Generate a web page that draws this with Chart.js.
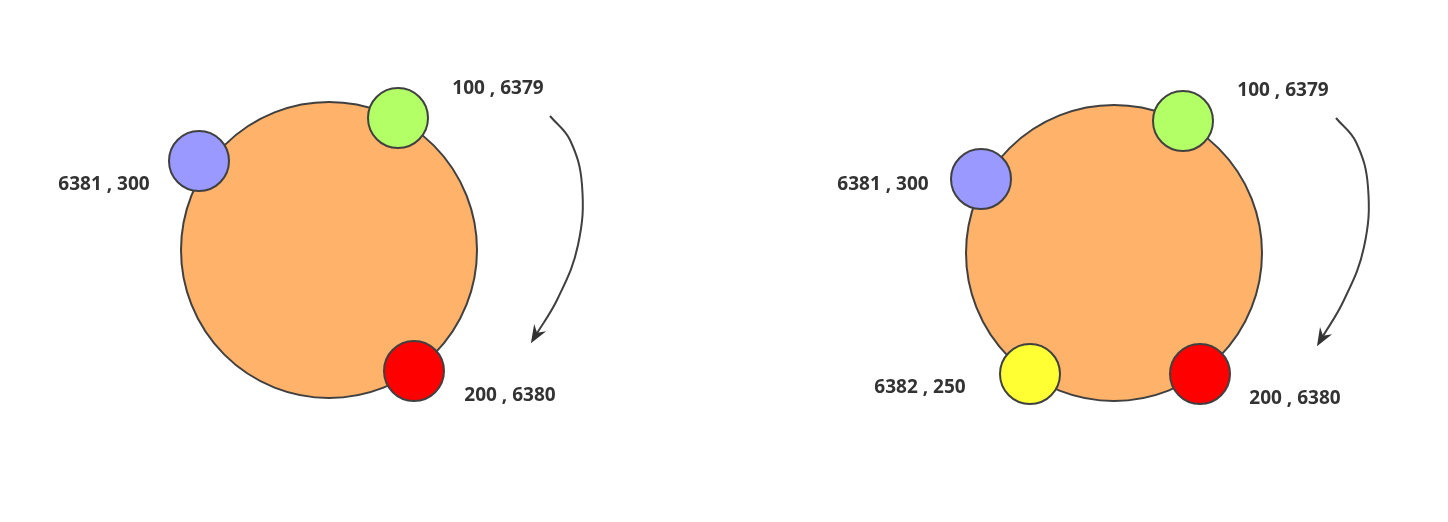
<!DOCTYPE html>
<html><head><meta charset="utf-8">
<script src="https://cdn.jsdelivr.net/npm/chart.js@4/dist/chart.umd.min.js"></script>
<style>html,body{margin:0;padding:0;background:#fff}#w{width:1448px;height:522px}</style>
</head><body><div id="w"><canvas id="c"></canvas></div>
<script>
// Ring (big circle) centers and radii
const ringX = [329, 1114];
const ringY = [250, 253];
const ringR = [148, 148];
// Nodes
const nodeLabels = ["6381 , 300","100 , 6379","200 , 6380","6381 , 300","100 , 6379","200 , 6380","6382 , 250"];
const nodeX = [199, 398, 414, 981, 1183, 1200, 1030];
const nodeY = [161, 118, 371, 179, 121, 374, 374];
const nodeColors = ["#9999ff","#b3ff66","#ff0000","#9999ff","#b3ff66","#ff0000","#ffff33"];
const labelX = [104, 498, 510, 883, 1283, 1295, 920];
const labelY = [185, 89, 396, 185, 91, 399, 388];
// Arrows (curve points)
const arrow1 = [{x:550,y:116},{x:570,y:140},{x:582,y:185},{x:578,y:245},{x:558,y:298},{x:534,y:338}];
const arrow2 = [{x:1336,y:118},{x:1356,y:142},{x:1368,y:187},{x:1364,y:247},{x:1344,y:300},{x:1320,y:341}];

const datasets = [
  {type:'bubble', order:3, clip:false, data: ringX.map((x,i)=>({x, y:ringY[i], r:ringR[i]})), backgroundColor:'#feb26a', borderColor:'#404040', borderWidth:2, hoverRadius:0},
  {type:'bubble', order:1, clip:false, data: nodeX.map((x,i)=>({x, y:nodeY[i], r:30})), backgroundColor:nodeColors, borderColor:'#404040', borderWidth:2, hoverRadius:0},
  {type:'line', order:2, clip:false, data: arrow1, borderColor:'#404040', borderWidth:2, tension:0.4, pointRadius:0, fill:false},
  {type:'line', order:2, clip:false, data: arrow2, borderColor:'#404040', borderWidth:2, tension:0.4, pointRadius:0, fill:false}
];
const deco = {
  id:'deco',
  afterDatasetsDraw(chart){
    const {ctx, scales:{x, y}} = chart;
    ctx.save();
    ctx.fillStyle = '#333';
    ctx.font = 'bold 19px "Open Sans", "DejaVu Sans", sans-serif';
    ctx.textAlign = 'center'; ctx.textBaseline = 'middle';
    nodeLabels.forEach((t,i)=>ctx.fillText(t, x.getPixelForValue(labelX[i]), y.getPixelForValue(labelY[i])));
    [arrow1, arrow2].forEach(a=>{
      const p = a[a.length-1], q = a[a.length-2];
      const tx = x.getPixelForValue(p.x), ty = y.getPixelForValue(p.y);
      const ang = Math.atan2(ty - y.getPixelForValue(q.y), tx - x.getPixelForValue(q.x));
      const ex = tx + 6*Math.cos(ang), ey = ty + 6*Math.sin(ang);
      const c = Math.cos(ang), s = Math.sin(ang);
      ctx.beginPath();
      ctx.moveTo(ex, ey);
      ctx.lineTo(ex - 18*c + 7*s, ey - 18*s - 7*c);
      ctx.lineTo(ex - 12*c, ey - 12*s);
      ctx.lineTo(ex - 18*c - 7*s, ey - 18*s + 7*c);
      ctx.closePath();
      ctx.fill();
    });
    ctx.restore();
  }
};
new Chart(document.getElementById('c'), {
  type:'bubble',
  data:{datasets},
  options:{
    responsive:true, maintainAspectRatio:false, animation:false,
    layout:{padding:0, autoPadding:false},
    plugins:{legend:{display:false}, tooltip:{enabled:false}},
    scales:{
      x:{type:'linear', min:0, max:1448, display:false, offset:false},
      y:{type:'linear', min:0, max:522, reverse:true, display:false, offset:false}
    }
  },
  plugins:[deco]
});
</script></body></html>
